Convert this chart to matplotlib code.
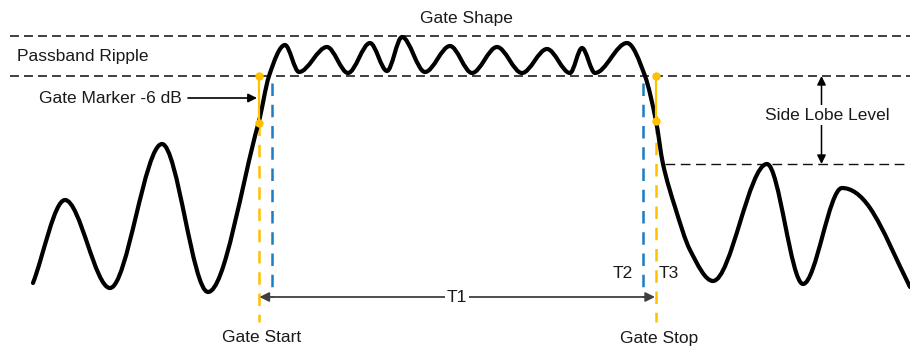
import numpy as np
import matplotlib
matplotlib.use("Agg")
import matplotlib.pyplot as plt
from matplotlib.path import Path
from matplotlib.patches import PathPatch

plt.rcParams['font.family'] = ['Liberation Sans', 'DejaVu Sans']

# Curve of the gated response (pixel-space readings of the reference)
curve_x = [33, 65, 110, 162, 208, 258.5, 269,
           285, 299, 327, 348, 370, 387, 402, 425, 450, 472, 497, 522,
           547, 570, 582, 595, 627, 645, 656, 663, 675, 690, 713,
           767, 803, 842, 870, 910]
curve_y = [283, 200, 288, 144, 292, 123, 76,
           45, 72, 47, 73, 43, 71, 37, 72, 46, 73, 47, 73,
           49, 73, 48, 73, 43, 76, 121, 164, 207, 250, 281,
           164, 284, 188, 208, 287]

# Reference levels
ripple_top = 36
ripple_bottom = 76
side_lobe = 164

# Gate positions
gate_start, gate_stop = 258.5, 656
t_start, t_stop = 271.5, 643
marker_low_left, marker_low_right = 123, 121

labels = {
    "title": "Gate Shape",
    "ripple": "Passband Ripple",
    "marker": "Gate Marker -6 dB",
    "side": "Side Lobe Level",
    "start": "Gate Start",
    "stop": "Gate Stop",
    "t1": "T1", "t2": "T2", "t3": "T3",
}

YEL = "#FFC000"
BLU = "#1B7CC4"
GRY = "#3f3f3f"
TXT = "#1a1a1a"
FS = 12.5

fig = plt.figure(figsize=(9.1, 3.47), dpi=100)
ax = fig.add_axes([0, 0, 1, 1])
ax.set_xlim(0, 910)
ax.set_ylim(347, 0)
ax.axis("off")

# dashed reference lines
ax.plot([10, 910], [ripple_top] * 2, color=GRY, lw=1.4, ls=(0, (4.6, 2.6)))
ax.plot([10, 910], [ripple_bottom] * 2, color=GRY, lw=1.4, ls=(0, (4.6, 2.6)))
ax.plot([665, 910], [side_lobe] * 2, color="#111111", lw=1.0, ls=(0, (7, 4)))

# gate verticals
ax.plot([t_start] * 2, [83, 297], color=BLU, lw=1.8, ls=(0, (5, 3.5)))
ax.plot([t_stop] * 2, [83, 297], color=BLU, lw=1.8, ls=(0, (5, 3.5)))
ax.plot([gate_start] * 2, [marker_low_left, 322], color=YEL, lw=1.8, ls=(0, (5, 3.5)))
ax.plot([gate_stop] * 2, [marker_low_right, 322], color=YEL, lw=1.8, ls=(0, (5, 3.5)))
ax.plot([gate_start] * 2, [ripple_bottom, marker_low_left], color=YEL, lw=1.6,
        marker="o", ms=5, zorder=6)
ax.plot([gate_stop] * 2, [ripple_bottom, marker_low_right], color=YEL, lw=1.6,
        marker="o", ms=5, zorder=6)

# smooth curve through readings (cubic Hermite rendered as Bezier segments;
# local extrema get horizontal tangents)
xs = np.asarray(curve_x, float)
ys = np.asarray(curve_y, float)
n = len(xs)
m = np.zeros(n)
for i in range(n):
    if 0 < i < n - 1:
        if (ys[i] - ys[i - 1]) * (ys[i + 1] - ys[i]) <= 0:
            m[i] = 0.0
        else:
            m[i] = (ys[i + 1] - ys[i - 1]) / (xs[i + 1] - xs[i - 1])
    elif i == 0:
        m[i] = (ys[1] - ys[0]) / (xs[1] - xs[0])
    else:
        m[i] = (ys[-1] - ys[-2]) / (xs[-1] - xs[-2])
verts = [(xs[0], ys[0])]
codes = [Path.MOVETO]
for i in range(n - 1):
    dx = xs[i + 1] - xs[i]
    k = dx / 3.0
    verts += [(xs[i] + k, ys[i] + m[i] * k),
              (xs[i + 1] - k, ys[i + 1] - m[i + 1] * k),
              (xs[i + 1], ys[i + 1])]
    codes += [Path.CURVE4] * 3
ax.add_patch(PathPatch(Path(verts, codes), fill=False, lw=3.0, ec="black",
                       capstyle="round", joinstyle="round", zorder=5))

# arrows
ax.annotate("", xy=(gate_start + 1, 297), xytext=(gate_stop - 1, 297),
            arrowprops=dict(arrowstyle="<|-|>", color=GRY, lw=1.3,
                            mutation_scale=14, shrinkA=0, shrinkB=0), zorder=6)
ax.annotate("", xy=(257, 98), xytext=(188, 98),
            arrowprops=dict(arrowstyle="-|>", color="black", lw=1.2,
                            mutation_scale=13, shrinkA=0, shrinkB=0), zorder=6)
ax.annotate("", xy=(821.5, ripple_bottom), xytext=(821.5, side_lobe),
            arrowprops=dict(arrowstyle="<|-|>", color="black", lw=1.1,
                            mutation_scale=13, shrinkA=0, shrinkB=0), zorder=6)

# texts
ax.text(466, 18, labels["title"], ha="center", va="center", fontsize=FS, color=TXT)
ax.text(17, 56, labels["ripple"], ha="left", va="center", fontsize=FS, color=TXT)
ax.text(182, 98, labels["marker"], ha="right", va="center", fontsize=FS, color=TXT)
ax.text(827.5, 115, labels["side"], ha="center", va="center", fontsize=FS, color=TXT,
        bbox=dict(fc="white", ec="none", pad=1.5), zorder=7)
ax.text(262, 338, labels["start"], ha="center", va="center", fontsize=FS, color=TXT)
ax.text(659, 338, labels["stop"], ha="center", va="center", fontsize=FS, color=TXT)
ax.text(457, 297, labels["t1"], ha="center", va="center", fontsize=FS, color=TXT,
        bbox=dict(fc="white", ec="none", pad=1.0), zorder=7)
ax.text(623, 273, labels["t2"], ha="center", va="center", fontsize=FS, color=TXT)
ax.text(669, 273, labels["t3"], ha="center", va="center", fontsize=FS, color=TXT)

fig.savefig("out.png", dpi=100)
